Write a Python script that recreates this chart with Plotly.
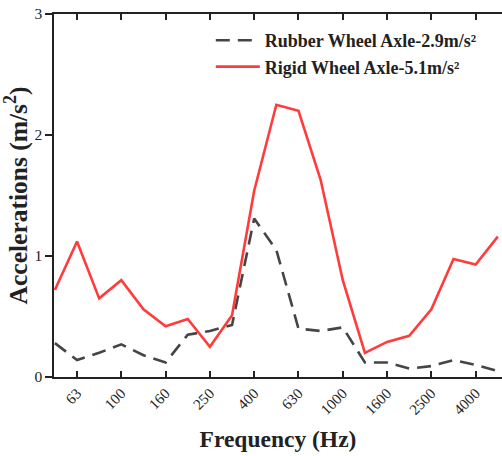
import plotly.graph_objects as go

freq_bands = ["50", "63", "80", "100", "125", "160", "200", "250", "315", "400", "500",
              "630", "800", "1000", "1250", "1600", "2000", "2500", "3150", "4000", "5000"]
rubber = [0.28, 0.14, 0.20, 0.27, 0.18, 0.12, 0.35, 0.38, 0.43, 1.31, 1.05,
          0.40, 0.38, 0.41, 0.12, 0.12, 0.07, 0.09, 0.14, 0.10, 0.05]
rigid = [0.72, 1.12, 0.65, 0.80, 0.56, 0.42, 0.48, 0.25, 0.51, 1.54, 2.25,
         2.20, 1.63, 0.80, 0.20, 0.29, 0.34, 0.56, 0.975, 0.93, 1.16]
tick_labels = ["63", "100", "160", "250", "400", "630", "1000", "1600", "2500", "4000"]

FONT = "Liberation Serif, Times New Roman, serif"

fig = go.Figure()
fig.add_trace(go.Scatter(x=freq_bands, y=rubber, mode="lines",
                         name="Rubber Wheel Axle-2.9m/s²",
                         line=dict(color="#454545", width=2.6, dash="14px,8px")))
fig.add_trace(go.Scatter(x=freq_bands, y=rigid, mode="lines",
                         name="Rigid Wheel Axle-5.1m/s²",
                         line=dict(color="#ff3b3b", width=2.6)))

fig.update_layout(
    width=502, height=456,
    margin=dict(l=54, r=0, t=14, b=79, autoexpand=False),
    paper_bgcolor="white", plot_bgcolor="white",
    font=dict(family=FONT, color="#222"),
    showlegend=True,
    legend=dict(x=0.35, y=0.978, xanchor="left", yanchor="top",
                bgcolor="rgba(0,0,0,0)", font=dict(size=18, family=FONT, weight="bold"),
                tracegroupgap=0, itemwidth=44),
    xaxis=dict(
        type="category", categoryorder="array", categoryarray=freq_bands,
        range=[-0.04, 20.19], automargin=False,
        tickmode="array", tickvals=tick_labels, ticktext=tick_labels,
        tickangle=-45, tickfont=dict(size=15, family=FONT),
        ticks="inside", ticklen=6, tickwidth=1.5, tickcolor="#222",
        showline=True, linecolor="#222", linewidth=1.5, mirror="ticks",
        showgrid=False, zeroline=False,
        title=dict(text="Frequency (Hz)", font=dict(size=23.5, family=FONT, weight="bold"), standoff=14),
    ),
    yaxis=dict(
        range=[0, 3], tickvals=[0, 1, 2, 3], automargin=False,
        tickfont=dict(size=15.5, family=FONT),
        ticks="outside", ticklen=7, tickwidth=1.5, tickcolor="#222",
        showline=True, linecolor="#222", linewidth=1.5,
        showgrid=False, zeroline=False,
        title=dict(text="Accelerations (m/s<sup>2</sup>)", font=dict(size=25.5, family=FONT, weight="bold"), standoff=3),
    ),
)

fig.write_html("out.html", config={"displayModeBar": False},
               post_script="document.body.style.margin='0';")
